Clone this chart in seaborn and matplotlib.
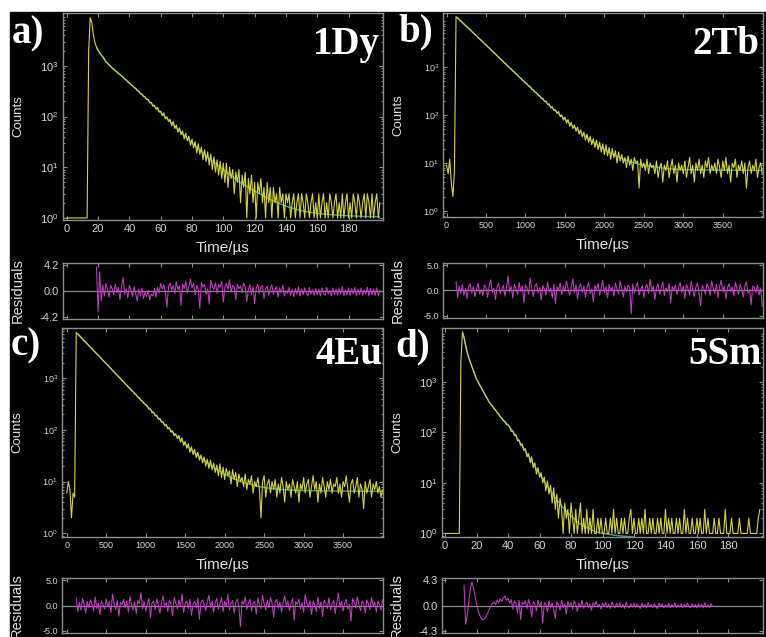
import matplotlib
matplotlib.use("Agg")
import matplotlib.pyplot as plt
from matplotlib.patches import Rectangle
from matplotlib.ticker import LogLocator, NullFormatter
import numpy as np
import pandas as pd
import seaborn as sns

# ---- data (photon counts per channel) ----
# time channels: 1 us for 1Dy/5Sm, 20 us for 2Tb/4Eu
T_FAST = np.arange(0, 201, 1)
T_SLOW = np.arange(0, 4001, 20)

DY_COUNTS = [
    1, 1, 1, 1, 1, 1, 1, 1, 1, 1, 1, 1, 1, 1,
    2000, 8900, 7100, 4100, 2850, 2330, 2010,
    1830, 1650, 1520, 1370, 1190, 1130, 1040, 990, 900, 860,
    790, 770, 700, 680, 625, 600, 545, 530, 480, 465,
    420, 405, 372, 362, 322, 316, 280, 276, 248, 246,
    215, 218, 186, 190, 160, 166, 139, 152, 122, 128,
    104, 118, 90, 99, 80, 88, 66, 80, 58, 68,
    49, 60, 44, 52, 36, 47, 33, 41, 27, 36,
    24, 32, 19, 29, 18, 25, 14, 22, 13, 20,
    11, 18, 9, 16, 8, 14, 7, 13, 6, 12,
    5, 12, 4, 10, 6, 9, 3, 8, 5, 9,
    2, 7, 4, 8, 1, 6, 3, 7, 2, 5,
    1, 5, 3, 6, 2, 4, 1, 5, 2, 4,
    1, 4, 2, 3, 1, 4, 2, 3, 1, 3,
    2, 3, 1, 2, 3, 1, 2, 3, 1, 3,
    2, 1, 3, 2, 1, 2, 3, 1, 2, 1,
    3, 1, 2, 3, 1, 2, 1, 3, 2, 1,
    2, 3, 1, 2, 1, 3, 1, 2, 3, 1,
    2, 1, 3, 2, 1, 3, 2, 1, 2, 3,
    1, 3, 2, 1, 3, 1, 2, 3, 1, 2,
]
FIT_DY_T = [19, 20, 25, 30, 35, 40, 50, 60, 70, 80, 90, 100, 110, 120,
            130, 140, 150, 160, 170, 180, 190, 200]
FIT_DY = [2340, 2000, 1200, 850, 630, 457, 240, 120, 60, 30, 15.8, 8.9, 5.2,
          3.4, 2.3, 1.7, 1.38, 1.23, 1.15, 1.10, 1.07, 1.05]
RES_DY_T = np.arange(19, 201, 1)
RES_DY = [
    3.9, -3.3, 3.1, -1.6, 1.0, -0.8, 1.2, 0.2, -1.0, 0.9, 0.4, -0.6,
    1.1, -0.3, 0.6, -1.4, 0.8, 2.2, -0.5, 0.3, -1.1, 0.9,
    0.2, -0.9, 0.7, -0.4, -1.6, 0.3, -0.8, 0.5, -1.2, -0.2,
    -0.9, 0.1, -1.4, -0.5, -0.8, 0.4, -1.0, 0.6, -0.3, 1.2,
    0.3, 1.0, -0.2, -2.6, 0.8, 1.3, 0.1, 0.9, -0.4, 1.5,
    0.2, 0.8, -2.3, 1.1, 0.4, 1.6, -0.3, 0.7, 1.9, 0.5,
    1.2, -0.6, 0.9, 0.2, -2.8, 1.4, 0.6, 1.1, -0.5, 0.3,
    -2.1, 1.7, 0.8, 0.2, 1.3, -0.4, 1.0, 0.6, 1.5, -1.8,
    0.7, 1.2, 0.3, 1.8, -0.2, 0.9, 0.5, -1.4, 1.1, 0.4,
    0.8, -0.3, 1.3, 0.6, -1.7, 0.2, 1.0, -0.6, 0.7, -2.0,
    0.5, 1.1, -0.4, 0.6, 0.9, -1.2, 0.3, 0.8, -0.7, 0.4,
    1.0, -0.5, 0.2, 0.7, -1.0, 0.5, -0.3, 0.9, -0.8, 0.1,
    -0.4, 0.6, -0.7, 0.2, -0.9, 0.4, -0.5, 0.7, -0.8, 0.3,
    -0.6, 0.5, -0.3, -0.8, 0.6, -0.5, 0.2, -0.7, 0.4, -0.6,
    0.3, -0.8, 0.5, -0.4, -0.7, 0.6, -0.5, 0.1, -0.8, 0.5,
    -0.6, 0.3, -0.7, 0.4, -0.5, 0.7, -0.8, 0.2, -0.6, 0.5,
    -0.7, 0.4, -0.5, 0.6, -0.8, 0.3, -0.6, 0.5, -0.7, 0.2,
    -0.5, 0.6, -0.8, 0.4, -0.6, 0.3, -0.7, 0.5, -0.8, 0.2,
]

TB_COUNTS = [
    9, 6, 12, 4, 2, 7,
    11000,
    10650, 9880, 9200, 8530, 7960, 7380, 6880, 6370, 5950, 5500, 5140, 4750, 4440, 4110,
    3840, 3550, 3320, 3070, 2870, 2650, 2480, 2290, 2140, 1980,
    1855, 1710, 1600, 1480, 1385, 1275, 1200, 1100, 1040, 950,
    900, 820, 780, 710, 675, 612, 585, 530, 505, 460,
    445, 398, 392, 340, 335, 296, 290, 255, 252, 220,
    222, 190, 194, 165, 170, 141, 148, 124, 128, 108,
    118, 92, 100, 78, 90, 68, 80, 58, 70, 52,
    62, 46, 56, 40, 49, 35, 44, 30, 40, 27,
    36, 24, 32, 21, 30, 19, 27, 17, 25, 15,
    24, 14, 21, 12, 20, 13, 18, 10, 17, 11,
    15, 10, 13, 8, 14, 9, 12, 7, 13, 10,
    11, 3, 12, 8, 10, 7, 12, 6, 10, 8,
    9, 6, 11, 5, 8, 10, 4, 9, 7, 11,
    5, 8, 12, 6, 9, 4, 10, 7, 9, 6,
    11, 5, 8, 13, 6, 9, 4, 10, 7, 12,
    6, 9, 5, 11, 8, 13, 6, 9, 7, 10,
    6, 12, 8, 5, 11, 7, 13, 6, 9, 4,
    10, 8, 12, 5, 9, 7, 11, 6, 10, 3,
    8, 11, 6, 9, 7, 12, 5, 8, 10, 6,
]
FIT_TB_T = [120, 400, 800, 1200, 1300, 1400, 1500, 1600, 1700, 1800, 1900,
            2000, 2100, 2200, 2300, 2400, 2500, 2600, 2800, 3000, 3500, 4000]
FIT_TB = [11000, 4125, 964, 229, 161, 114, 82, 59, 43, 32, 24.4, 19.1, 15.4,
          12.9, 11.1, 9.8, 9.0, 8.4, 7.6, 7.3, 7.1, 7.0]
RES_SLOW_T = np.arange(120, 4001, 20)
RES_TB = [
    1.8, -1.4, 0.9, -0.6, 1.2, -0.9, 0.4, -1.6, 0.7, 1.3,
    -0.5, 0.8, -1.2, 0.3, 1.5, -0.7, 0.2, -1.0, 1.1, 0.6,
    -1.3, 0.9, 2.1, -0.4, 0.5, -1.8, 0.7, 1.4, -0.6, 0.2,
    1.0, -1.1, 0.6, 2.9, -0.3, 0.8, -1.5, 1.2, 0.4, -0.8,
    1.6, -0.2, 0.9, -2.4, 1.1, 0.5, -0.7, 2.5, 0.3, -1.2,
    0.8, 1.4, -0.5, 0.6, -1.9, 1.0, 0.2, -0.9, 1.7, -0.3,
    0.5, -1.4, 1.2, -2.6, 0.7, 0.1, 1.5, -0.8, 0.9, -0.2,
    1.8, 0.4, -1.0, 0.7, 2.3, -0.5, 1.1, -1.7, 0.6, 1.3,
    -0.4, 0.9, -1.3, 0.5, 1.6, -0.6, 0.3, -2.2, 1.0, 0.2,
    1.4, -0.9, 0.6, 2.0, -0.4, 0.8, -1.5, 1.2, -0.1, 0.7,
    -1.1, 1.5, 0.3, -0.6, 1.9, 0.4, -1.3, 0.9, -0.3, 1.1,
    0.6, -4.6, 1.3, -0.5, 0.8, 1.6, -0.9, 0.2, 1.0, -1.4,
    0.7, 1.2, -0.6, 2.2, -0.2, 0.9, -1.8, 0.5, 1.3, -0.7,
    0.4, 1.7, -1.0, 0.6, -0.3, 1.4, -2.5, 0.8, 0.1, 1.1,
    -0.8, 0.5, 1.6, -0.4, 0.9, -1.6, 1.2, 0.3, -0.9, 1.8,
    0.2, -1.2, 0.7, 1.5, -0.5, -3.0, 1.0, 0.4, -0.7, 1.3,
    0.6, -1.0, 1.9, 0.3, -0.6, 1.2, -1.4, 0.8, 2.0, -0.3,
    0.9, -1.7, 0.5, 1.4, -0.2, 0.7, -1.1, 1.6, 0.3, -0.8,
    1.2, 0.4, -1.3, 0.8, 1.7, -0.5, 0.2, -2.8, 0.9, 0.6,
    -0.4, 1.1, -0.9, 0.5, -3.2,
]

EU_COUNTS = [
    6, 10, 7, 2, 6, 5,
    7500,
    7200, 6710, 6200, 5790, 5340, 4990, 4600, 4300, 3960, 3710, 3410, 3200, 2940, 2760,
    2540, 2390, 2180, 2060, 1880, 1780, 1620, 1530, 1400, 1320,
    1200, 1140, 1040, 985, 895, 850, 770, 735, 665, 640,
    570, 552, 495, 478, 425, 412, 368, 358, 318, 310,
    290, 250, 255, 215, 220, 186, 192, 160, 166, 140,
    143, 120, 127, 104, 110, 90, 96, 77, 84, 68,
    78, 58, 70, 50, 60, 44, 54, 37, 47, 33,
    42, 29, 37, 26, 33, 23, 30, 20, 27, 18,
    26, 17, 23, 15, 21, 13, 22, 12, 19, 11,
    18, 13, 16, 9, 17, 11, 15, 8, 14, 10,
    12, 8, 14, 7, 11, 9, 13, 6, 10, 8,
    12, 7, 2, 10, 13, 5, 9, 11, 6, 10,
    7, 11, 5, 9, 6, 12, 8, 4, 10, 7,
    9, 5, 11, 8, 6, 10, 4, 9, 7, 12,
    6, 9, 11, 5, 8, 13, 7, 10, 4, 9,
    6, 12, 8, 5, 10, 7, 11, 6, 9, 8,
    12, 6, 9, 5, 10, 8, 13, 7, 4, 9,
    11, 6, 8, 12, 5, 9, 7, 3, 10, 6,
    8, 11, 5, 9, 7, 10, 6, 8, 5, 7,
]
FIT_EU_T = [120, 400, 800, 1200, 1300, 1400, 1500, 1600, 1700, 1800, 1900,
            2000, 2100, 2200, 2400, 2600, 2800, 3000, 3500, 4000]
FIT_EU = [7500, 2754, 628, 148, 104, 74, 52.5, 38.5, 28.5, 21.8, 17.1, 13.9,
          11.6, 10.0, 8.2, 7.3, 6.9, 6.7, 6.55, 6.5]
RES_EU = [
    1.5, -1.2, 0.6, -0.9, 1.4, 0.2, -1.5, 0.8, -0.4, 1.1,
    0.3, -1.0, 1.7, -0.6, 0.5, -1.8, 0.9, 0.1, -0.7, 1.3,
    -0.3, 0.8, -1.4, 2.2, 0.4, -0.8, 1.0, -2.1, 0.6, 0.2,
    1.2, -0.5, 0.9, -1.3, 1.8, 0.3, -0.9, 0.7, -1.6, 1.0,
    0.4, 2.5, -0.6, 0.8, -1.1, 0.2, 1.4, -2.4, 0.5, 0.9,
    -0.8, 1.3, 0.1, -1.5, 0.7, 1.9, -0.4, 0.6, -1.2, 1.1,
    0.3, -2.0, 1.6, 0.5, -0.7, 1.0, -0.2, 2.3, -1.4, 0.4,
    0.9, -0.6, 1.2, -1.9, 0.3, 0.8, -0.5, 1.5, -2.7, 0.6,
    1.1, 0.2, -1.0, 0.7, 2.0, -0.4, 0.9, -1.3, 0.5, 1.4,
    -0.7, 0.3, 1.6, -1.2, 0.8, -0.1, 2.2, -0.9, 0.4, 1.0,
    -1.5, 0.6, 1.3, -0.3, -4.2, 0.9, 0.2, 1.7, -0.8, 0.5,
    1.2, -1.1, 0.4, 0.8, -1.7, 1.5, 0.1, -0.6, 2.0, 0.3,
    -0.9, 1.0, -0.4, 1.6, 0.5, -2.3, 0.8, 1.2, -0.5, 0.7,
    -1.3, 0.6, 1.9, -0.2, 0.9, -1.0, 0.4, 1.4, -2.9, 0.8,
    0.2, 1.3, -0.7, 0.5, -1.4, 2.1, 0.6, -0.3, 1.0, -1.8,
    0.9, 0.1, -1.2, 1.7, -0.5, 0.7, -2.2, 1.1, 0.4, -0.6,
    1.5, -0.9, 0.3, 1.0, -1.6, 0.6, 2.4, -0.4, 0.8, -1.1,
    0.5, 1.2, -0.7, 0.2, -3.1, 1.4, 0.7, -0.5, 1.8, 0.1,
    -1.0, 0.9, 0.4, -1.5, 1.1, 0.3, -0.8, 1.6, -0.2, 0.7,
    -1.3, 0.8, 0.2, -0.9, 1.2,
]

SM_COUNTS = [
    1, 1, 1, 1, 1, 1, 1, 1, 1, 1,
    2500, 9700, 7600, 5200, 3900, 3000, 2450, 2000, 1650, 1370, 1120,
    1000, 870, 776, 676, 590, 513, 457, 398,
    360, 338, 296, 282, 244, 236, 202, 196, 168, 163, 142, 141,
    131, 104, 108, 86, 90, 68, 71, 55, 59, 44,
    48, 33, 38, 25, 33, 20, 25, 15, 20, 13,
    16, 10, 13, 7, 11, 6, 9, 4, 8, 3,
    6, 2, 5, 3, 1, 4, 2, 3, 1, 4,
    2, 1, 3, 1, 2, 4, 1, 2, 1, 3,
    1, 2, 1, 3, 1, 1, 2, 1, 2, 1,
    1, 2, 1, 1, 2, 1, 3, 1, 2, 1,
    1, 2, 1, 2, 1, 1, 2, 3, 1, 2,
    1, 1, 2, 1, 2, 1, 3, 1, 1, 2,
    1, 2, 1, 1, 2, 1, 2, 1, 1, 3,
    1, 2, 1, 2, 1, 1, 2, 1, 2, 1,
    1, 3, 1, 2, 1, 1, 2, 1, 1, 2,
    1, 2, 1, 1, 3, 1, 2, 1, 1, 1,
    2, 1, 1, 2, 1, 1, 1, 3, 1, 1,
    1, 2, 1, 1, 1, 1, 2, 1, 1, 1,
    1, 1, 2, 1, 1, 1, 1, 1, 2, 3,
]
FIT_SM_T = [11, 12, 14, 16, 18, 20, 24, 28, 32, 36, 40, 44, 48, 52, 56, 60,
            64, 68, 72, 76, 80, 85, 90, 95, 100, 110, 120]
FIT_SM = [9700, 7600, 3900, 2450, 1650, 1120, 660, 398, 275, 190, 141, 95, 60,
          38, 24, 15.1, 9.5, 6.3, 4.2, 3.0, 2.2, 1.6, 1.3, 1.1, 1.0, 0.9, 0.85]
RES_SM_T = np.arange(12, 171, 1)
RES_SM = [
    3.5, -3.2, -1.8, 0.6, 3.0, 4.0, 3.1, 1.6, 0.2,
    -0.9, -1.7, -2.2, -2.5, -2.3, -1.9, -1.3, -0.7, -0.1, 0.3,
    0.6, 0.2, 0.9, 0.5, 1.1, 0.7, 1.3, 1.6, 0.9, 1.2,
    0.4, 1.0, -0.6, 0.8, 0.3, -1.2, 0.9, -2.4, 0.6, 0.2,
    0.8, -0.5, 1.0, 0.1, -2.0, 0.7, 0.3, -0.9, 0.9, -0.2,
    0.6, -3.0, 0.5, 0.2, -1.1, 0.8, -0.3, 0.4, -0.7, -2.2,
    0.6, 0.1, -0.8, 0.9, -0.4, 0.3, -1.5, 0.7, -0.2, 0.5,
    -0.6, 0.8, 0.2, -1.0, 0.4, -0.3, 0.9, -0.5, 0.1, 0.6,
    -0.4, 0.3, -0.8, 0.5, 0.0, 0.7, -0.3, 0.2, -0.6, 0.4,
    -0.2, 0.5, -0.4, 0.3, -0.5, 0.6, -0.1, -0.4, 0.4, -0.3,
    0.5, -0.4, 0.2, -0.5, 0.6, -0.2, -0.4, 0.3, -0.3, 0.4,
    -0.4, 0.3, -0.2, -0.5, 0.4, -0.3, 0.2, -0.4, 0.5, -0.3,
    0.2, -0.4, 0.3, -0.3, -0.5, 0.4, -0.2, 0.3, -0.4, 0.1,
    -0.3, 0.4, -0.4, 0.2, -0.3, 0.5, -0.4, 0.1, -0.3, 0.3,
    -0.4, 0.2, -0.3, 0.4, -0.2, -0.4, 0.3, -0.3, 0.2, -0.4,
    0.3, -0.3, 0.2, -0.4, 0.5, -0.3, 0.1, -0.4, 0.3, -0.2,
]

# ---- look ----
W, H = 766, 637
DATA_YELLOW = "#d4d438"
FIT_GREEN = "#3a9e86"
RES_MAGENTA = "#c43cc4"
FRAME = "#8c8c8c"
TICK_TEXT = "#d4d4d4"
LABEL_TEXT = "#e0e0e0"

PANELS = [
    dict(letter="a)", name="1Dy", t=T_FAST, counts=DY_COUNTS, fit_t=FIT_DY_T, fit=FIT_DY,
         res_t=RES_DY_T, res=RES_DY, main=(63, 13, 383, 220), resid=(63, 263, 383, 319),
         xlim=(-2.4, 202), ylim=(0.91, 11000), xticks=list(range(0, 181, 20)),
         rlim=4.5, rticks=(-4.2, 0.0, 4.2), fs=8, letter_xy=(12, 15), name_xy=(380, 26)),
    dict(letter="b)", name="2Tb", t=T_SLOW, counts=TB_COUNTS, fit_t=FIT_TB_T, fit=FIT_TB,
         res_t=RES_SLOW_T, res=RES_TB, main=(443, 13, 763, 217), resid=(443, 263, 763, 318),
         xlim=(-45, 4010), ylim=(0.75, 13300), xticks=list(range(0, 3501, 500)),
         rlim=5.45, rticks=(-5.0, 0.0, 5.0), fs=6.5, letter_xy=(398, 13), name_xy=(759, 26)),
    dict(letter="c)", name="4Eu", t=T_SLOW, counts=EU_COUNTS, fit_t=FIT_EU_T, fit=FIT_EU,
         res_t=RES_SLOW_T, res=RES_EU, main=(62, 328, 383, 537), resid=(62, 578, 383, 633),
         xlim=(-60, 4005), ylim=(0.85, 9300), xticks=list(range(0, 3501, 500)),
         rlim=5.45, rticks=(-5.0, 0.0, 5.0), fs=6.5, letter_xy=(11, 327), name_xy=(382, 336)),
    dict(letter="d)", name="5Sm", t=T_FAST, counts=SM_COUNTS, fit_t=FIT_SM_T, fit=FIT_SM,
         res_t=RES_SM_T, res=RES_SM, main=(442, 328, 763, 537), resid=(442, 578, 763, 633),
         xlim=(-2, 202), ylim=(0.85, 11700), xticks=list(range(0, 181, 20)),
         rlim=4.7, rticks=(-4.3, 0.0, 4.3), fs=8, letter_xy=(395, 328), name_xy=(762, 336)),
]


def px_box(x0, y0, x1, y1):
    return [x0 / W, 1 - y1 / H, (x1 - x0) / W, (y1 - y0) / H]


def fig_xy(x, y):
    return x / W, 1 - y / H


def style_axes(ax, fs):
    ax.set_facecolor("black")
    for spine in ax.spines.values():
        spine.set_color(FRAME)
        spine.set_linewidth(1.0)
    ax.tick_params(which="both", direction="in", top=True, right=True,
                   color=FRAME, labelcolor=TICK_TEXT, labelsize=fs, width=0.8, pad=3)
    ax.tick_params(which="major", length=3)
    ax.tick_params(which="minor", length=1.6)
    ax.grid(False)
    ax.set_xlabel("")
    ax.set_ylabel("")


def draw_panel(fig, p):
    ax = fig.add_axes(px_box(*p["main"]))
    data = pd.DataFrame({"t": p["t"], "counts": p["counts"]})
    fit = pd.DataFrame({"t": p["fit_t"], "counts": p["fit"]})
    # fitted curve sits under the measured trace, as in the instrument output
    sns.lineplot(data=fit, x="t", y="counts", ax=ax, color=FIT_GREEN,
                 linewidth=1.0, estimator=None, sort=False, zorder=2)
    sns.lineplot(data=data, x="t", y="counts", ax=ax, color=DATA_YELLOW,
                 linewidth=0.8, estimator=None, sort=False, zorder=3)
    ax.set_yscale("log")
    ax.set_xlim(*p["xlim"])
    ax.set_ylim(*p["ylim"])
    ax.set_xticks(p["xticks"])
    ax.set_yticks([1, 10, 100, 1000])
    ax.set_yticklabels([r"$10^{0}$", r"$10^{1}$", r"$10^{2}$", r"$10^{3}$"])
    ax.yaxis.set_minor_locator(LogLocator(base=10, subs=(2, 3, 4, 5, 6, 7, 8, 9)))
    ax.yaxis.set_minor_formatter(NullFormatter())
    style_axes(ax, p["fs"])

    x0, y0, x1, y1 = p["main"]
    fig.text(*fig_xy(x0 - 45, (y0 + y1) / 2), "Counts", rotation=90, ha="center",
             va="center", fontsize=9.5, color=LABEL_TEXT)
    fig.text(*fig_xy((x0 + x1) / 2, y1 + 28), "Time/µs", ha="center", va="center",
             fontsize=11, color=LABEL_TEXT)

    rax = fig.add_axes(px_box(*p["resid"]))
    res = pd.DataFrame({"t": p["res_t"], "residual": p["res"]})
    rax.axhline(0, color=FRAME, linewidth=0.9, zorder=1)
    sns.lineplot(data=res, x="t", y="residual", ax=rax, color=RES_MAGENTA,
                 linewidth=0.75, estimator=None, sort=False, zorder=2)
    rax.set_xlim(*p["xlim"])
    rax.set_ylim(-p["rlim"], p["rlim"])
    rax.set_xticks(p["xticks"])
    rax.set_xticklabels([])
    rax.set_yticks(p["rticks"])
    rax.set_yticklabels([f"{v:.1f}" for v in p["rticks"]])
    style_axes(rax, p["fs"])

    rx0, ry0, rx1, ry1 = p["resid"]
    fig.text(*fig_xy(rx0 - 45, (ry0 + ry1) / 2), "Residuals", rotation=90, ha="center",
             va="center", fontsize=10.5, color=LABEL_TEXT)

    serif = dict(family=["Liberation Serif", "DejaVu Serif"], fontweight="bold",
                 fontsize=28, color="white", va="top")
    fig.text(*fig_xy(*p["letter_xy"]), p["letter"], ha="left", **serif)
    fig.text(*fig_xy(*p["name_xy"]), p["name"], ha="right", **serif)


def main():
    sns.set_theme(style="ticks")
    plt.rcParams["font.family"] = ["Liberation Sans", "DejaVu Sans"]
    plt.rcParams["mathtext.default"] = "regular"

    fig = plt.figure(figsize=(W / 100, H / 100), dpi=100)
    fig.patch.set_facecolor("white")
    fig.add_artist(Rectangle((10 / W, 0), 1 - 10 / W, 1 - 12 / H,
                             transform=fig.transFigure, color="black", zorder=-10))
    for p in PANELS:
        draw_panel(fig, p)
    fig.savefig("out.png", dpi=100, facecolor="white")


if __name__ == "__main__":
    main()
